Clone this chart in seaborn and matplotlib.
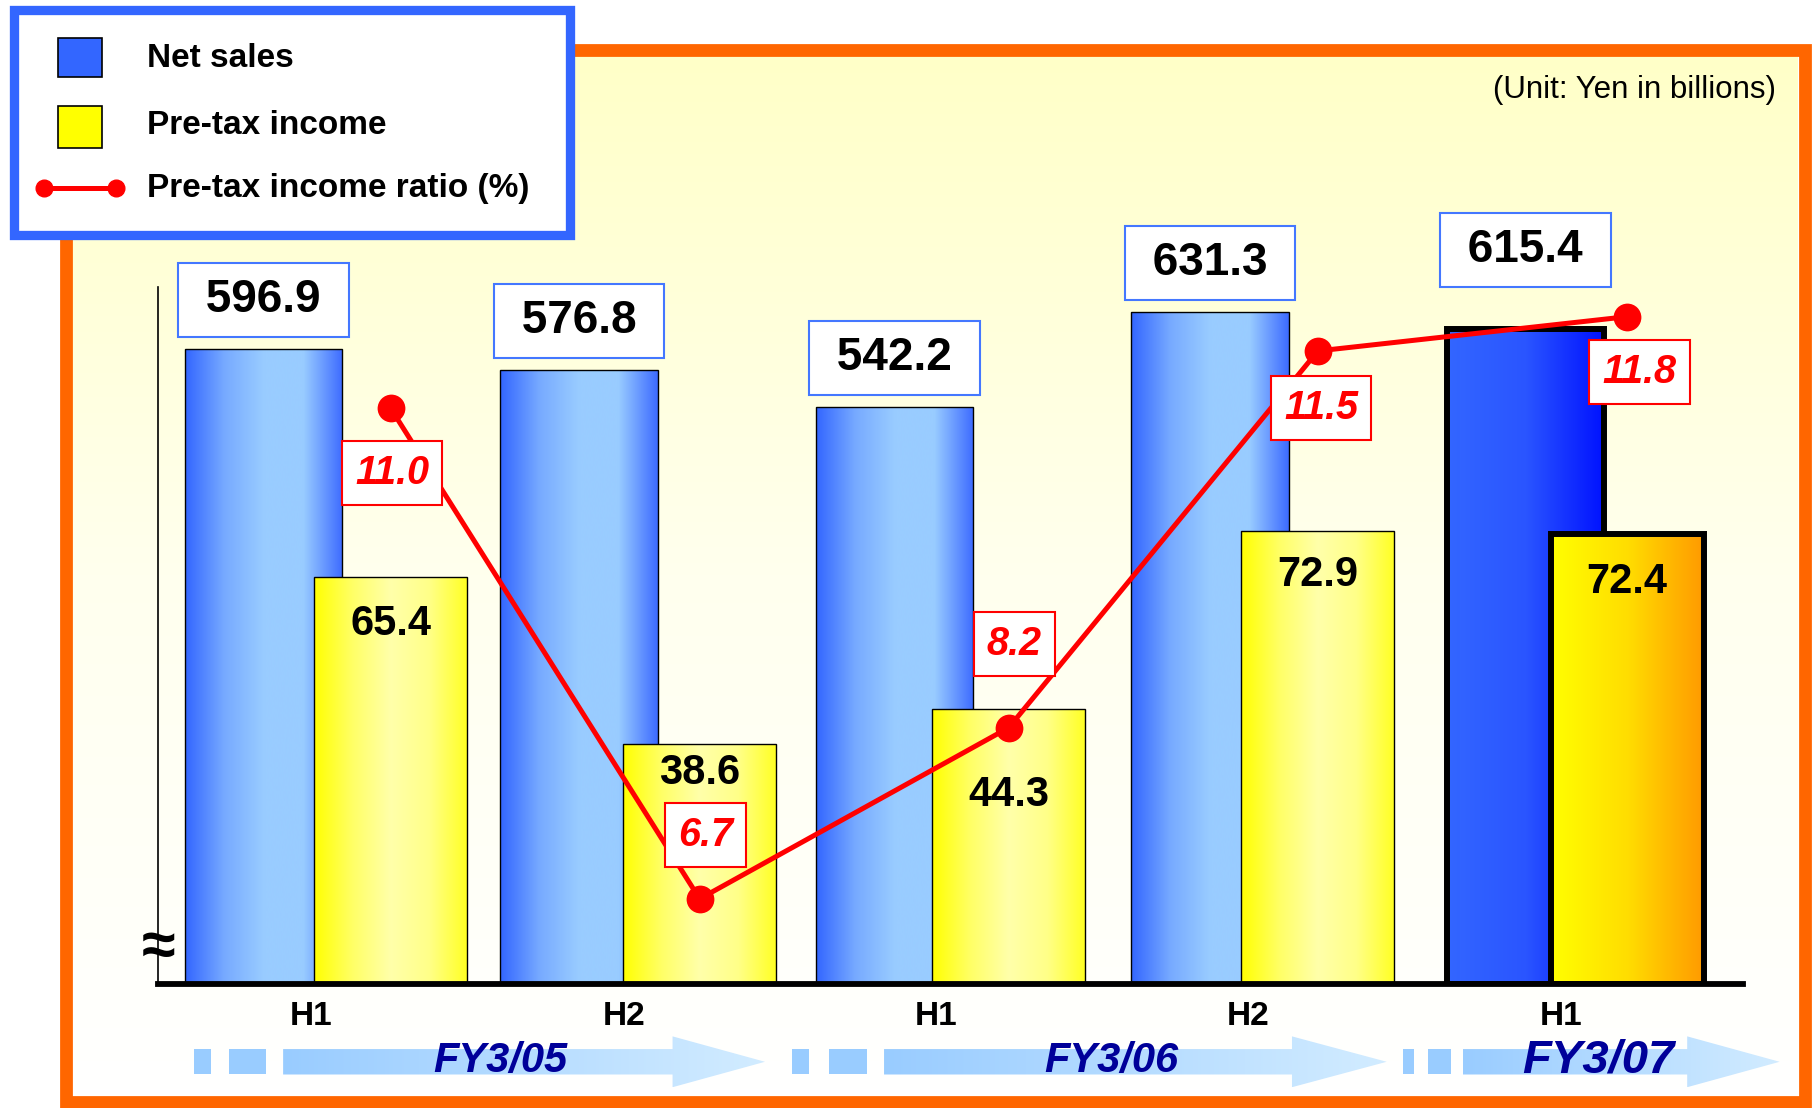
#!/usr/bin/env python3
"""Net sales / pre-tax income by half year, bars with ratio line."""
import matplotlib

matplotlib.use("Agg")
import matplotlib.pyplot as plt  # noqa: E402
import numpy as np  # noqa: E402
import seaborn as sns  # noqa: E402
from matplotlib.colors import LinearSegmentedColormap  # noqa: E402
from matplotlib.patches import Polygon, Rectangle  # noqa: E402

periods = ["H1", "H2", "H1", "H2", "H1"]
fiscal_years = ["FY3/05", "FY3/06", "FY3/07"]
net_sales = [596.9, 576.8, 542.2, 631.3, 615.4]
pretax_income = [65.4, 38.6, 44.3, 72.9, 72.4]
pretax_ratio = [11.0, 6.7, 8.2, 11.5, 11.8]
legend_labels = ["Net sales", "Pre-tax income", "Pre-tax income ratio (%)"]
unit_note = "(Unit: Yen in billions)"

# layout is worked out in reference pixel units (1568 x 959)
W, H = 1568, 959
BLUE = "#3366FF"
RED = "#FF0000"
NAVY = "#000099"

sns.set_theme(style="white")
plt.rcParams["font.family"] = ["Liberation Sans", "DejaVu Sans"]
plt.rcParams["text.color"] = "black"
plt.rcParams["xtick.color"] = "black"


def paint(ax, patch, stops, extent, vertical=False, zorder=1.5):
    cmap = LinearSegmentedColormap.from_list("grad", stops)
    grad = np.linspace(0, 1, 256)
    grad = grad[:, None] if vertical else grad[None, :]
    im = ax.imshow(grad, cmap=cmap, extent=extent, aspect="auto",
                   origin="upper", zorder=zorder, interpolation="bicubic")
    im.set_clip_path(patch)
    return im


fig = plt.figure(figsize=(18.12, 11.08), dpi=100)

# ---- decoration layer (background, frame, legend, FY arrows)
deco = fig.add_axes([0, 0, 1, 1])
deco.set_xlim(0, W)
deco.set_ylim(H, 0)
deco.axis("off")

bg = Rectangle((62, 48), 1493, 900, facecolor="none", edgecolor="none")
deco.add_patch(bg)
paint(deco, bg, ["#FFFFC8", "#FFFFEE", "#FFFFFF"], (62, 1555, 948, 48),
      vertical=True, zorder=0)
deco.add_patch(Rectangle((57, 43), 1505, 911, fill=False,
                         edgecolor="#FF6600", linewidth=9.2, zorder=1))

arrow_layout = [(168, 183, 198, 230, 245, 582, 662, 433, 30),
                (685, 700, 717, 750, 765, 1118, 1200, 962, 30),
                (1214, 1224, 1236, 1256, 1266, 1460, 1540, 1383, 34)]
for fy, (s1, e1, s2, e2, b0, h0, tip, tx, fs) in zip(fiscal_years, arrow_layout):
    for a, b in [(s1, e1), (s2, e2)]:
        deco.add_patch(Rectangle((a, 908), b - a, 22, facecolor="#99CCFF",
                                 edgecolor="none", zorder=2))
    arrow = Polygon([(b0, 908), (h0, 908), (h0, 897), (tip, 919), (h0, 941),
                     (h0, 930), (b0, 930)], closed=True, facecolor="none",
                    edgecolor="none")
    deco.add_patch(arrow)
    paint(deco, arrow, ["#99CCFF", "#D2ECFF"], (b0, tip, 941, 897), zorder=2)
    deco.text(tx, 918, fy, ha="center", va="center", fontsize=fs,
              fontweight="bold", fontstyle="italic", color=NAVY, zorder=3)

deco.text(1537, 78, unit_note, ha="right", va="center", fontsize=22.5,
          color="black", zorder=3)

# legend box
deco.add_patch(Rectangle((12, 9), 481, 194, facecolor="white",
                         edgecolor=BLUE, linewidth=6.7, zorder=4))
deco.add_patch(Rectangle((50, 33), 38, 34, facecolor=BLUE,
                         edgecolor="black", linewidth=1.2, zorder=5))
deco.add_patch(Rectangle((50, 92), 38, 36, facecolor="#FFFF00",
                         edgecolor="black", linewidth=1.2, zorder=5))
deco.plot([38, 100], [163, 163], color=RED, linewidth=3.6, marker="o",
          markersize=12, zorder=5)
for label, y in zip(legend_labels, [51, 109, 163]):
    deco.text(127, y, label, ha="left", va="center", fontsize=24,
              fontweight="bold", color="black", zorder=5)

# ---- chart axes: net sales, pre-tax income and ratio on three y scales
ax1 = fig.add_axes([137 / W, 1 - 852 / H, (1508 - 137) / W, (852 - 200) / H])
ax1.patch.set_visible(False)
ax2 = ax1.twinx()
ax3 = ax1.twinx()

x = np.arange(len(periods))
# the two series sit at slightly different spacings in the original slide
x_sales = x * 1.0102 - 0.2035
x_pretax = x * 0.9898 + 0.2035

sns.barplot(x=x_sales, y=net_sales, native_scale=True, width=0.5,
            color=BLUE, edgecolor="black", linewidth=1, errorbar=None, ax=ax1)
sns.barplot(x=x_pretax, y=pretax_income, native_scale=True, width=0.495,
            color="#FFFF00", edgecolor="black", linewidth=1, errorbar=None, ax=ax2)
sns.lineplot(x=x_pretax, y=pretax_ratio, color=RED, linewidth=3.6, marker="o",
             markersize=20, markeredgewidth=0, ax=ax3, zorder=3)

blue_stops = ["#3366FF", "#77AAFF", "#99CCFF", "#99CCFF", "#3D6BFF"]
yellow_stops = ["#FFFF00", "#FFFF66", "#FFFFAA", "#FFFF88", "#FFFF22"]
last_blue = ["#3366FF", "#2A55FF", "#0011FF"]
last_yellow = ["#FFFF00", "#FFDD00", "#FF9900"]
for ax, stops, last in [(ax1, blue_stops, last_blue), (ax2, yellow_stops, last_yellow)]:
    bars = list(ax.patches)
    for i, bar in enumerate(bars):
        bx, bw, bh = bar.get_x(), bar.get_width(), bar.get_height()
        final = i == len(bars) - 1
        bar.set_facecolor("none")
        bar.set_zorder(2)
        if final:
            bar.set_linewidth(4.3)
        paint(ax, bar, last if final else stops, (bx, bx + bw, 0, bh))

# value labels
sales_offsets = [35, 35, 35, 35, 57]
for xv, v, off in zip(x_sales, net_sales, sales_offsets):
    ax1.annotate(f" {v:.1f} ", (xv, v), xytext=(0, off), textcoords="offset points",
                 ha="center", va="center", fontsize=33, fontweight="bold",
                 color="black",
                 bbox=dict(boxstyle="square,pad=0.33", facecolor="white",
                           edgecolor="#4477FF", linewidth=1.5))

pretax_offsets = [-34, -21, -62, -32, -35]
for xv, v, off in zip(x_pretax, pretax_income, pretax_offsets):
    ax2.annotate(f"{v:.1f}", (xv, v), xytext=(0, off), textcoords="offset points",
                 ha="center", va="center", fontsize=30, fontweight="bold",
                 color="black", zorder=4)

ratio_offsets = [(1, -47), (4, 46), (4, 60), (2.5, -41), (9, -40)]
for xv, v, off in zip(x_pretax, pretax_ratio, ratio_offsets):
    ax3.annotate(f"{v:.1f}", (xv, v), xytext=off, textcoords="offset points",
                 ha="center", va="center", fontsize=28.5, fontweight="bold",
                 fontstyle="italic", color=RED, zorder=5,
                 bbox=dict(boxstyle="square,pad=0.33", facecolor="white",
                           edgecolor=RED, linewidth=1.5))

# scales
for ax in (ax1, ax2, ax3):
    ax.set_xlim(-0.540, 4.533)
    ax.set_yticks([])
    ax.set_xlabel("")
    ax.set_ylabel("")
    for sp in ax.spines.values():
        sp.set_visible(False)
ax1.set_ylim(0, 707.2)
ax2.set_ylim(0, 121.0)
ax3.set_ylim(5.951, 12.55)

ax1.spines["left"].set_visible(True)
ax1.spines["left"].set_color("black")
ax1.spines["left"].set_linewidth(1.2)
ax1.spines["left"].set_bounds(0, 655)
ax3.spines["bottom"].set_visible(True)
ax3.spines["bottom"].set_color("black")
ax3.spines["bottom"].set_linewidth(4.2)

ax1.set_xticks(x - 0.05, periods)
ax1.tick_params(axis="x", length=0, pad=12, labelsize=24, labelcolor="black")
for t in ax1.get_xticklabels():
    t.set_fontweight("bold")

ax3.text(0, 30 / 652, "≈", transform=ax3.transAxes, ha="center", va="center",
         fontsize=44, fontweight="bold", color="black")

fig.savefig("out.png", dpi=100)
plt.close(fig)
